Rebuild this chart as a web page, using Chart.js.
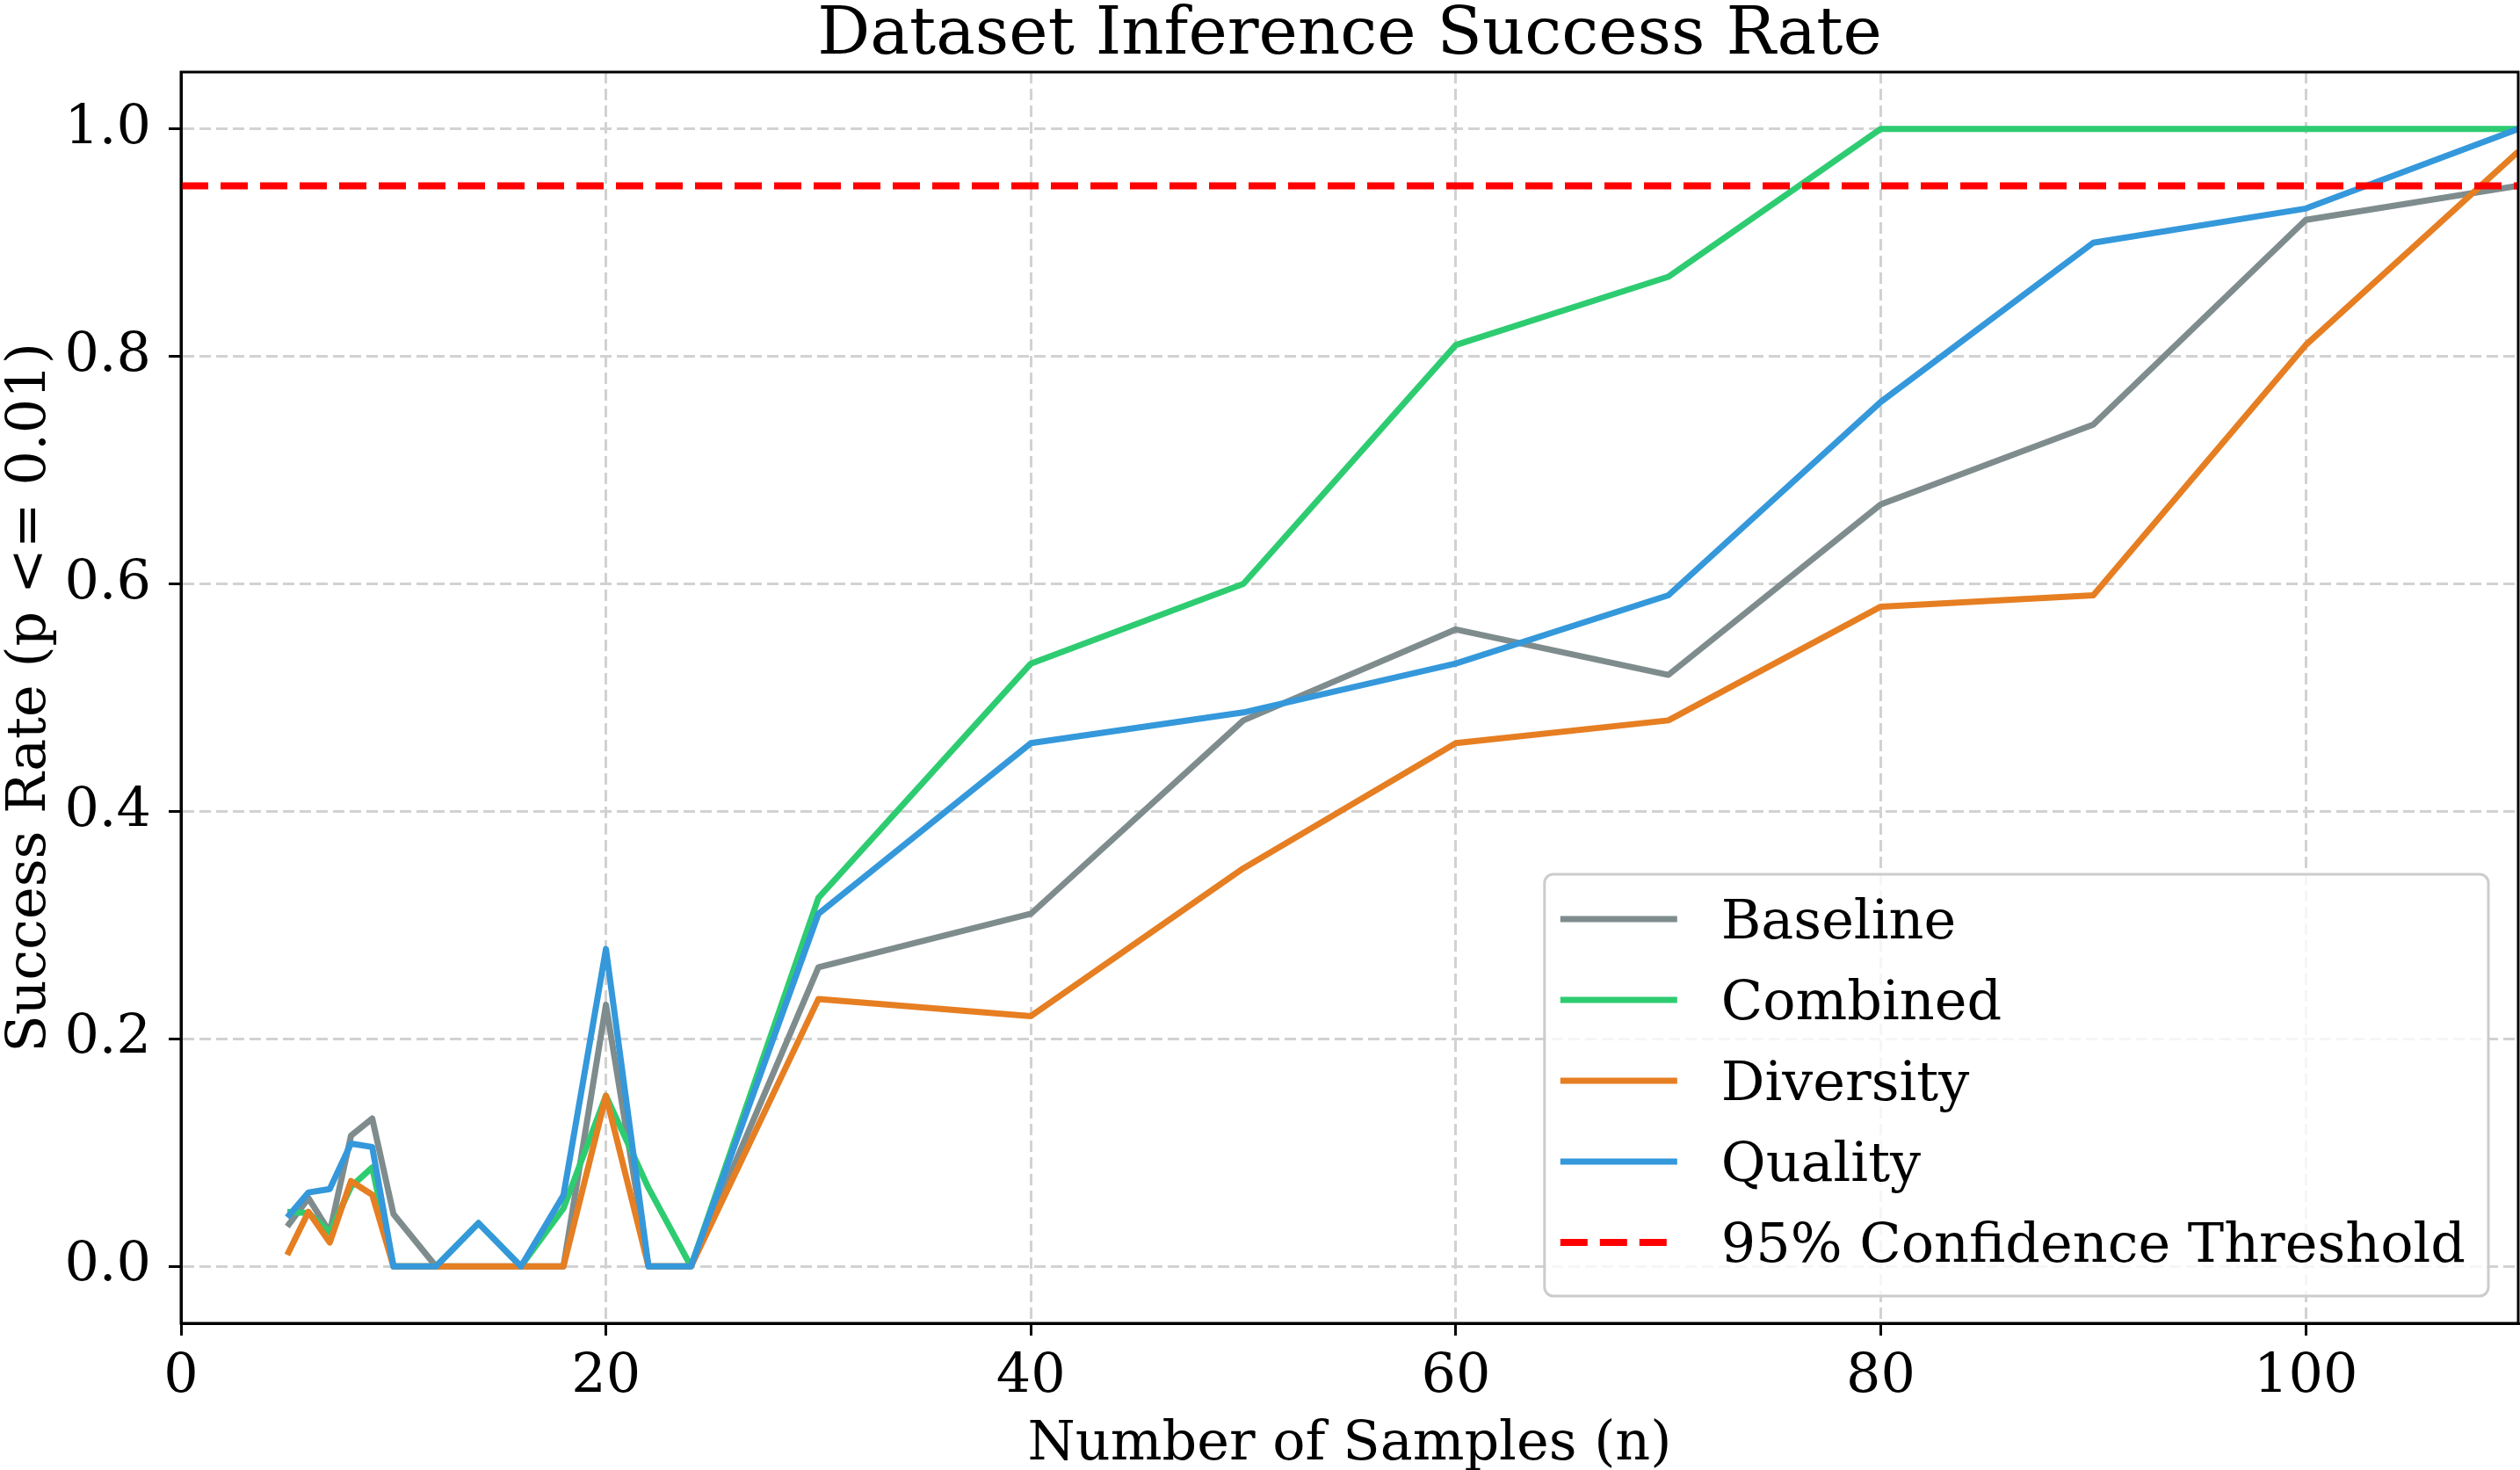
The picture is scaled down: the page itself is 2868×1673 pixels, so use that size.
<!DOCTYPE html>
<html>
<head>
<meta charset="utf-8">
<script src="https://cdn.jsdelivr.net/npm/chart.js@4.4.1/dist/chart.umd.min.js"></script>
<style>
  html, body { margin: 0; padding: 0; background: #fff; }
  #wrap { width: 2868px; height: 1673px; position: relative; }
</style>
</head>
<body>
<div id="wrap"><canvas id="myChart"></canvas></div>
<script>
// data
const sampleSizes = [5, 6, 7, 8, 9, 10, 12, 14, 16, 18, 20, 22, 24, 30, 40, 50, 60, 70, 80, 90, 100, 110];
const baseline  = [0.035, 0.06, 0.03, 0.115, 0.13, 0.046, 0, 0, 0, 0, 0.23, 0, 0, 0.263, 0.31, 0.48, 0.56, 0.52, 0.67, 0.74, 0.92, 0.95];
const combined  = [0.048, 0.047, 0.03, 0.07, 0.087, 0, 0, 0.038, 0, 0.051, 0.15, 0.069, 0, 0.324, 0.53, 0.60, 0.81, 0.87, 1.0, 1.0, 1.0, 1.0];
const diversity = [0.01, 0.048, 0.021, 0.075, 0.063, 0, 0, 0, 0, 0, 0.15, 0, 0, 0.235, 0.22, 0.35, 0.46, 0.48, 0.58, 0.59, 0.81, 0.98];
const quality   = [0.043, 0.065, 0.068, 0.108, 0.105, 0, 0, 0.038, 0, 0.0625, 0.279, 0, 0, 0.31, 0.46, 0.487, 0.53, 0.59, 0.76, 0.90, 0.93, 1.0];
const thresholdX = [0, 110];
const thresholdY = [0.95, 0.95];
const xTicks = [0, 20, 40, 60, 80, 100];
const yTicks = [0.0, 0.2, 0.4, 0.6, 0.8, 1.0];

const FONT = "'DejaVu Serif', serif";
Chart.defaults.font.family = FONT;
Chart.defaults.color = "#000";

const toPoints = (xs, ys) => xs.map((x, i) => ({ x: x, y: ys[i] }));

function series(label, ys, color, order) {
  return {
    label: label,
    data: toPoints(sampleSizes, ys),
    borderColor: color,
    backgroundColor: color,
    borderWidth: 7,
    pointRadius: 0,
    tension: 0,
    borderJoinStyle: "round",
    order: order,
  };
}

const datasets = [
  series("Baseline", baseline, "#7f8c8d", 5),
  series("Combined", combined, "#2ecc71", 4),
  series("Diversity", diversity, "#e67e22", 3),
  series("Quality", quality, "#3498db", 2),
  {
    label: "95% Confidence Threshold",
    data: toPoints(thresholdX, thresholdY),
    borderColor: "#ff0000",
    backgroundColor: "#ff0000",
    borderWidth: 8,
    borderDash: [31, 14],
    pointRadius: 0,
    order: 1,
  },
];

// center the title over the plot area like matplotlib does
const centerTitle = {
  id: "centerTitle",
  afterLayout(chart) {
    const t = chart.titleBlock;
    if (t) {
      t.left = chart.chartArea.left;
      t.right = chart.chartArea.right;
    }
  },
};

// full box frame + legend inside the axes, lower right
const frameAndLegend = {
  id: "frameAndLegend",
  afterDatasetsDraw(chart) {
    const { ctx, chartArea: a } = chart;
    ctx.save();
    ctx.strokeStyle = "#000";
    ctx.lineWidth = 3;
    ctx.setLineDash([]);
    ctx.strokeRect(a.left, a.top, a.right - a.left, a.bottom - a.top);
    ctx.restore();
  },
  afterDraw(chart) {
    const { ctx, chartArea: a } = chart;
    const ds = chart.data.datasets;
    ctx.save();
    ctx.font = "62px " + FONT;
    let textW = 0;
    ds.forEach((d) => { textW = Math.max(textW, ctx.measureText(d.label).width); });
    const lineLen = 133, padL = 18, gap = 50, padR = 26, rowH = 92;
    const w = padL + lineLen + gap + textW + padR;
    const h = 480;
    const right = a.right - 34, bottom = a.bottom - 31;
    const left = right - w, top = bottom - h;

    ctx.beginPath();
    ctx.roundRect(left, top, w, h, 10);
    ctx.fillStyle = "rgba(255,255,255,0.8)";
    ctx.fill();
    ctx.lineWidth = 3;
    ctx.strokeStyle = "#cccccc";
    ctx.stroke();

    ds.forEach((d, i) => {
      const cy = top + 51 + i * rowH;
      ctx.beginPath();
      ctx.lineWidth = d.borderWidth;
      ctx.strokeStyle = d.borderColor;
      ctx.setLineDash(d.borderDash || []);
      ctx.moveTo(left + padL, cy);
      ctx.lineTo(left + padL + lineLen, cy);
      ctx.stroke();
      ctx.setLineDash([]);
      ctx.fillStyle = "#000";
      ctx.textBaseline = "alphabetic";
      ctx.textAlign = "left";
      ctx.fillText(d.label, left + padL + lineLen + gap, cy + 22);
    });
    ctx.restore();
  },
};

const gridStyle = { color: "#d2d2d2", lineWidth: 3, tickLength: 14, tickColor: "#000", tickWidth: 3 };

const config = {
  type: "line",
  data: { datasets: datasets },
  options: {
    responsive: true,
    maintainAspectRatio: false,
    animation: false,
    devicePixelRatio: 1,
    layout: { padding: { left: 0, right: 2, top: 0, bottom: 0 } },
    plugins: {
      legend: { display: false },
      tooltip: { enabled: false },
      title: {
        display: true,
        text: "Dataset Inference Success Rate",
        color: "#000",
        font: { size: 75, weight: "normal", lineHeight: 0.8 },
        padding: { top: 12, bottom: 10 },
      },
    },
    scales: {
      x: {
        type: "linear",
        min: 0,
        max: 110,
        afterBuildTicks: (s) => { s.ticks = xTicks.map((v) => ({ value: v })); },
        afterFit: (s) => { s.height = 167; },
        ticks: { font: { size: 62 }, color: "#000", padding: 11, maxRotation: 0, callback: (v) => String(v) },
        grid: gridStyle,
        border: { display: true, color: "#000", width: 3, dash: [13, 6] },
        title: {
          display: true,
          text: "Number of Samples (n)",
          color: "#000",
          font: { size: 62, lineHeight: 0.9 },
          padding: { top: 0, bottom: 0 },
        },
      },
      y: {
        type: "linear",
        min: -0.05,
        max: 1.05,
        afterBuildTicks: (s) => { s.ticks = yTicks.map((v) => ({ value: v })); },
        afterFit: (s) => { s.width = 206; },
        ticks: { font: { size: 62 }, color: "#000", padding: 20, callback: (v) => v.toFixed(1) },
        grid: gridStyle,
        border: { display: true, color: "#000", width: 3, dash: [13, 6] },
        title: {
          display: true,
          text: "Success Rate (p <= 0.01)",
          color: "#000",
          font: { size: 62, lineHeight: 1 },
          padding: { top: 4, bottom: 0 },
        },
      },
    },
  },
  plugins: [centerTitle, frameAndLegend],
};

const myChart = new Chart(document.getElementById("myChart"), config);
</script>
</body>
</html>
